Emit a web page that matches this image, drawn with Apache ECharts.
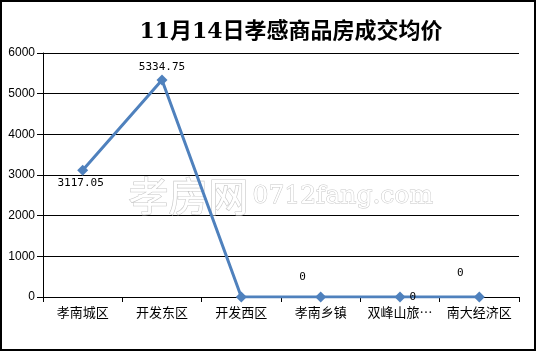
<!DOCTYPE html>
<html><head><meta charset="utf-8">
<script src="https://cdn.jsdelivr.net/npm/echarts@6/dist/echarts.min.js"></script>
<style>html,body{margin:0;padding:0;background:#fff}#c{width:537px;height:352px}</style>
</head><body><div id="c"></div>
<script>
var categories = ['孝南城区','开发东区','开发西区','孝南乡镇','双峰山旅游度假区','南大经济区'];
var prices = [3117.05, 5334.75, 0, 0, 0, 0];
var labelPos = ['bottom','top','none','top','right','top'];
var labelOffset = [[-2,-4],[0,4],[0,0],[-18,-3],[-2,0],[-19,-7]];
var yTicks = [0,1000,2000,3000,4000,5000,6000];

var chart = echarts.init(document.getElementById('c'), null, {renderer:'canvas'});
var data = prices.map(function(v,i){
  var it = {value:v};
  if (labelPos[i]==='none') it.label={show:false};
  else it.label={show:true, position:labelPos[i], offset:labelOffset[i]};
  return it;
});
chart.setOption({
  backgroundColor:'#fff',
  animation:false,
  title:{text:'11月14日孝感商品房成交均价', left:286, textAlign:'center', top:16,
    textStyle:{fontFamily:'DejaVu Serif, Noto Sans CJK SC', fontSize:22, fontWeight:'bold', color:'#000'}},
  grid:{left:43, right:18, top:53, bottom:55},
  xAxis:{type:'category', data:categories, boundaryGap:true,
    axisLine:{lineStyle:{color:'#000', width:1}},
    axisTick:{show:true, length:5, lineStyle:{color:'#000'}},
    axisLabel:{color:'#000', fontSize:13, fontFamily:'Noto Sans CJK SC', margin:9, interval:0,
      width:70, overflow:'truncate', ellipsis:'…'}},
  yAxis:{type:'value', min:0, max:6000, interval:1000,
    axisLine:{show:true, lineStyle:{color:'#000'}},
    axisTick:{show:true, length:6, lineStyle:{color:'#000'}},
    splitLine:{lineStyle:{color:'#000', width:1}},
    axisLabel:{color:'#000', fontSize:12, fontFamily:'Liberation Sans', margin:8,
      formatter:function(v){return yTicks.indexOf(v)>=0?String(v):'';}}},
  graphic:[
    {type:'rect', shape:{x:1, y:1, width:534, height:349}, style:{fill:null, stroke:'#000', lineWidth:2}, z:100},
    {type:'text', left:128, top:175, style:{text:'孝房网', fontSize:40, fontFamily:'Noto Sans CJK SC', fill:'#fff', stroke:'#c8c8c8', lineWidth:1.2}, z:1},
    {type:'text', left:252, top:183, style:{text:'0712fang.com', fontSize:25, fontFamily:'DejaVu Serif', fill:'#fff', stroke:'#c8c8c8', lineWidth:1}, z:1}
  ],
  series:[{
    type:'line', data:data, symbol:'diamond', symbolSize:11,
    lineStyle:{color:'#4f81bd', width:3}, itemStyle:{color:'#4f81bd'},
    label:{color:'#000', fontSize:11, fontFamily:'DejaVu Sans Mono', distance:6},
    z:10
  }]
});
</script></body></html>
